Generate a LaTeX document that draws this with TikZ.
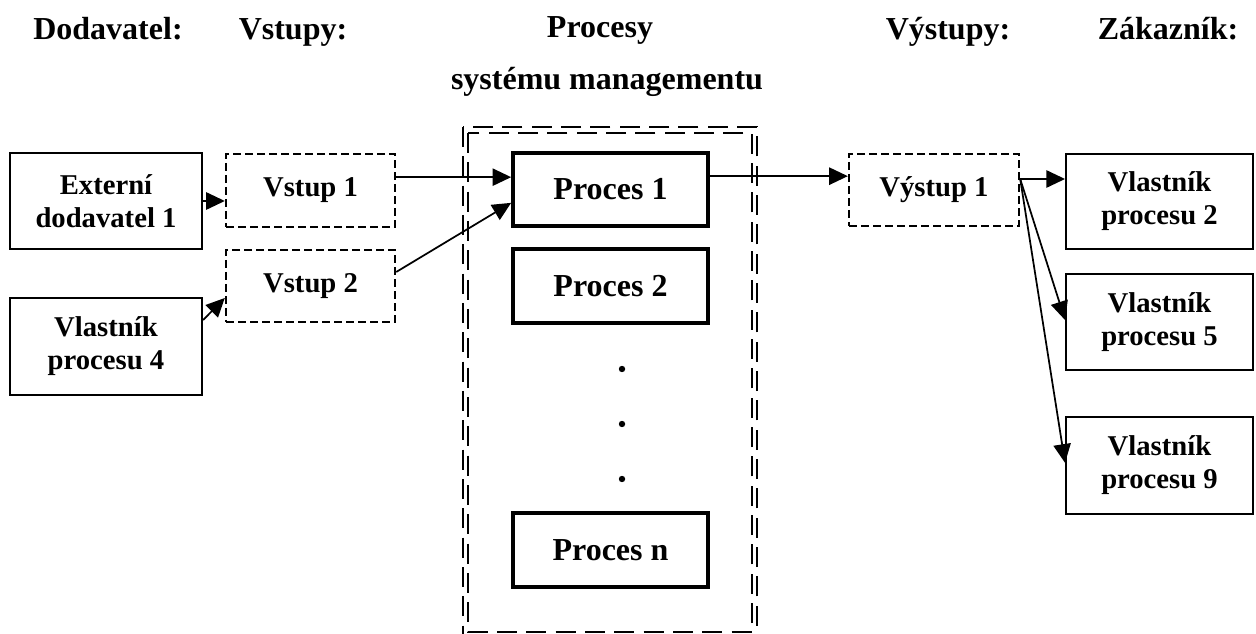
\documentclass[tikz,border=0pt]{standalone}
\usepackage{fontspec}
\setmainfont{Liberation Serif}
\usetikzlibrary{arrows.meta,calc}
\begin{document}
\begin{tikzpicture}[x=0.75pt,y=-0.75pt,
  every node/.style={font=\fontsize{21.5}{24.75}\selectfont\bfseries, inner sep=0pt, align=center},
  hdr/.style={anchor=base, font=\fontsize{24}{28}\selectfont\bfseries},
  solidbox/.style={draw, line width=1.7pt},
  procbox/.style={draw, line width=3pt, minimum width=146pt, minimum height=55pt, font=\fontsize{24}{28}\selectfont\bfseries},
  dbox/.style={draw, line width=1.8pt, dash pattern=on 6pt off 3pt},
  frame/.style={line width=1.9pt, dash pattern=on 15pt off 7pt},
  conn/.style={line width=1.3pt, -{Triangle[length=14pt,width=13pt]}}
]
\useasboundingbox (0,0) rectangle (1256,634);
% headers
\node[hdr] (hd) at (108,40) {Dodavatel:};
\node[hdr] (hv) at (293,40) {Vstupy:};
\node[hdr] (hp) at (600,38) {Procesy};
\node[hdr] (hs) at (607,90) {systému managementu};
\node[hdr] (hy) at (948,40) {Výstupy:};
\node[hdr] (hz) at (1168,40) {Zákazník:};
% frame around processes
\draw[frame] (463,127) rectangle (757,640);
\draw[frame] (468,133) rectangle (752,632);
% left side
\node[solidbox, minimum width=144pt, minimum height=72pt] (ext) at (106,201) {Externí\\dodavatel 1};
\node[solidbox, minimum width=144pt, minimum height=72.75pt] (v4) at (106,346.5) {Vlastník\\procesu 4};
\node[dbox, minimum width=126.75pt, minimum height=54.75pt] (in1) at (310.5,190.5) {Vstup 1};
\node[dbox, minimum width=126.75pt, minimum height=54pt] (in2) at (310.5,286) {Vstup 2};
% processes
\node[procbox] (p1) at (610.5,189.5) {Proces 1};
\node[procbox] (p2) at (610.5,286) {Proces 2};
\node[procbox] (pn) at (610.5,550) {Proces n};
\fill (622,369) circle (3.2) (622,424) circle (3.2) (622,479) circle (3.2);
% output
\node[dbox, minimum width=127.5pt, minimum height=54pt] (out) at (934,190) {Výstup 1};
\node[solidbox, minimum width=140pt, minimum height=71.25pt] (c2) at (1159.5,201.5) {Vlastník\\procesu 2};
\node[solidbox, minimum width=140pt, minimum height=72pt] (c5) at (1159.5,322) {Vlastník\\procesu 5};
\node[solidbox, minimum width=140pt, minimum height=72.75pt] (c9) at (1159.5,465.5) {Vlastník\\procesu 9};
% connectors
\draw[conn] (ext.east) -- (ext.east -| in1.west);
\draw[conn] ([yshift=19.9pt]v4.east) -- ([yshift=-9pt]in2.west);
\coordinate (a1) at ([yshift=10pt]in1.east);
\draw[conn] (a1) -- (a1 -| p1.west);
\draw[conn] ([yshift=10.5pt]in2.east) -- ([yshift=-10pt]p1.west);
\coordinate (a2) at ([yshift=10pt]p1.east);
\draw[conn] (a2) -- (a2 -| out.west);
\coordinate (vo) at ([yshift=8.25pt]out.east);
\draw[conn] (vo) -- (vo -| c2.west);
\draw[conn] (vo) -- ([yshift=1.5pt]c5.west);
\draw[conn] (vo) -- ([yshift=2pt]c9.west);
\end{tikzpicture}
\end{document}
